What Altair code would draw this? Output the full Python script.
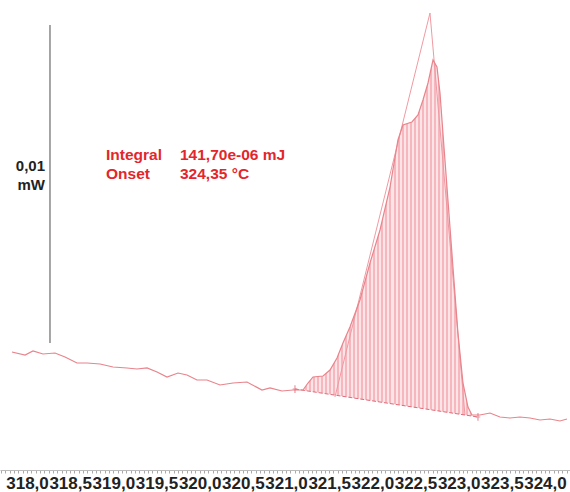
import altair as alt
import pandas as pd

# DSC trace: temperature (°C) and heat flow (mW)
temperature = [
    317.826, 317.977, 318.069, 318.185, 318.324, 318.440, 318.579, 318.695,
    318.846, 318.996, 319.158, 319.274, 319.390, 319.506, 319.622, 319.749,
    319.853, 319.969, 320.085, 320.236, 320.386, 320.548, 320.722, 320.815,
    320.954, 321.081, 321.197, 321.255, 321.313, 321.429, 321.510, 321.591,
    321.660, 321.741, 321.857, 321.973, 322.089, 322.205, 322.297, 322.355,
    322.459, 322.529, 322.587, 322.645, 322.703, 322.749, 322.784, 322.818,
    322.876, 322.934, 322.992, 323.050, 323.108, 323.154, 323.247, 323.363,
    323.479, 323.595, 323.710, 323.826, 323.942, 324.058, 324.174, 324.255,
]
heat_flow = [
    0.003711, 0.003616, 0.003742, 0.003648, 0.003679, 0.003553, 0.003365, 0.003365,
    0.003333, 0.003239, 0.003208, 0.003176, 0.003208, 0.003082, 0.002925, 0.003050,
    0.002987, 0.002830, 0.002830, 0.002673, 0.002736, 0.002767, 0.002516, 0.002579,
    0.002484, 0.002516, 0.002516, 0.002736, 0.002925, 0.002956, 0.003145, 0.003522,
    0.003994, 0.004497, 0.005346, 0.006509, 0.007547, 0.008899, 0.010377, 0.010849,
    0.010943, 0.011164, 0.011635, 0.012170, 0.012893, 0.012673, 0.011855, 0.010598,
    0.008491, 0.006384, 0.004308, 0.002736, 0.001981, 0.001730, 0.001730, 0.001792,
    0.001667, 0.001635, 0.001667, 0.001635, 0.001572, 0.001604, 0.001541, 0.001604,
]

# integration baseline end points (temperature, heat flow)
base_t = [321.104, 323.224]
base_q = [0.002547, 0.001667]

# tangent construction: left foot, apex, right foot
tangent_t = [321.567, 322.668, 323.073]
tangent_q = [0.002296, 0.014371, 0.001730]

# scale bar
bar_t = 318.266
bar_start = 0.003994
bar_length = 0.01  # mW

tick_labels = [318.0, 318.5, 319.0, 319.5, 320.0, 320.5, 321.0,
               321.5, 322.0, 322.5, 323.0, 323.5, 324.0]
minor_ticks = [round(317.70 + 0.05 * i, 2) for i in range(132)]

annotation_keys = ["Integral", "Onset"]
annotation_values = ["141,70e-06 mJ", "324,35 °C"]
scale_lines = ["0,01", "mW"]

curve = pd.DataFrame({"T": temperature, "Q": heat_flow})
baseline = pd.DataFrame({"T": base_t, "Q": base_q})
tangents = pd.DataFrame({"T": tangent_t, "Q": tangent_q})

FONT = "Liberation Sans"
LINE = "#e8848c"
RED = "#e3262b"

x_scale = alt.Scale(domain=[317.687, 324.290], nice=False, zero=False)
y_scale = alt.Scale(domain=[0.0, 0.01478], nice=False, zero=False)

# only the half-degree ticks carry a label, written with a decimal comma
label_expr = (
    "abs(datum.value * 2 - round(datum.value * 2)) < 0.001 ? "
    "(floor(datum.value + 0.001) + ',' + (round(datum.value * 10) % 10)) : ''"
)

x_enc = alt.X(
    "T:Q", scale=x_scale, title=None,
    axis=alt.Axis(
        values=minor_ticks, labelExpr=label_expr, labelOverlap=False,
        labelFont=FONT, labelFontSize=17, labelFontWeight="bold",
        labelColor="#222222", labelPadding=2, tickSize=3, tickColor="#aaaaaa",
        domainColor="#bbbbbb", grid=False, labelFlush=False,
    ),
)
y_enc = alt.Y("Q:Q", scale=y_scale, axis=None)

# striped fill made from alternating hard gradient stops
n_stripes = 42
stops = []
for i in range(n_stripes):
    a = i / n_stripes
    m = (i + 0.5) / n_stripes
    b = (i + 1) / n_stripes
    stops += [
        alt.GradientStop(color="#fde4e7", offset=a),
        alt.GradientStop(color="#fde4e7", offset=m),
        alt.GradientStop(color="#f6b8be", offset=m),
        alt.GradientStop(color="#f6b8be", offset=b),
    ]
stripes = alt.Gradient(gradient="linear", stops=stops, x1=0, x2=1, y1=0, y2=0)

slope = (base_q[1] - base_q[0]) / (base_t[1] - base_t[0])

fill = (
    alt.Chart(curve)
    .transform_filter((alt.datum.T >= base_t[0]) & (alt.datum.T <= base_t[1]))
    .transform_calculate(B=f"{base_q[0]} + {slope} * (datum.T - {base_t[0]})")
    .mark_area(fill=stripes, interpolate="linear")
    .encode(x=x_enc, y=y_enc, y2="B:Q")
)

trace = alt.Chart(curve).mark_line(color=LINE, strokeWidth=1.2).encode(
    x=x_enc, y=y_enc, order="T:Q"
)

base_line = alt.Chart(baseline).mark_line(
    color="#e06a78", strokeWidth=1, strokeDash=[4, 2]
).encode(x=x_enc, y=y_enc)

base_marks = alt.Chart(baseline).mark_point(
    shape="M0,-1V1M-0.6,0H0.6", size=60, color="#e06a78", strokeWidth=1.2
).encode(x=x_enc, y=y_enc)

tangent_line = alt.Chart(tangents).mark_line(
    color="#ef9aa2", strokeWidth=1
).encode(x=x_enc, y=y_enc)

scale_df = pd.DataFrame({"T": [bar_t], "Q": [bar_start], "Q2": [bar_start + bar_length]})
scale_bar = alt.Chart(scale_df).mark_rule(color="#888888", strokeWidth=1.5).encode(
    x=x_enc, y=y_enc, y2="Q2:Q"
)

row_offset = alt.Scale(domain=[0, 1], range=[0, 19])

scale_text = pd.DataFrame({"line": scale_lines, "row": [0, 1]})
scale_label = alt.Chart(scale_text).mark_text(
    font=FONT, fontSize=15, fontWeight="bold", color="#222222",
    align="right", baseline="middle",
).encode(
    x=alt.value(45),
    y=alt.value(166),
    yOffset=alt.YOffset("row:Q", scale=row_offset),
    text="line:N",
)

ann = pd.DataFrame({"key": annotation_keys, "val": annotation_values, "row": [0, 1]})
ann_keys = alt.Chart(ann).mark_text(
    font=FONT, fontSize=15.5, fontWeight="bold", color=RED, align="left", baseline="middle"
).encode(x=alt.value(106), y=alt.value(155),
         yOffset=alt.YOffset("row:Q", scale=row_offset), text="key:N")
ann_vals = alt.Chart(ann).mark_text(
    font=FONT, fontSize=15.5, fontWeight="bold", color=RED, align="left", baseline="middle"
).encode(x=alt.value(180), y=alt.value(155),
         yOffset=alt.YOffset("row:Q", scale=row_offset), text="val:N")

chart = (
    alt.layer(fill, tangent_line, base_line, trace, base_marks, scale_bar,
              scale_label, ann_keys, ann_vals)
    .properties(width=570, height=470,
                autosize=alt.AutoSizeParams(type="none"),
                padding={"left": 0, "top": 0, "right": 0, "bottom": 22},
                background="white")
    .configure_view(stroke=None)
)

chart.save("out.html", embed_options={"renderer": "svg", "actions": False})
